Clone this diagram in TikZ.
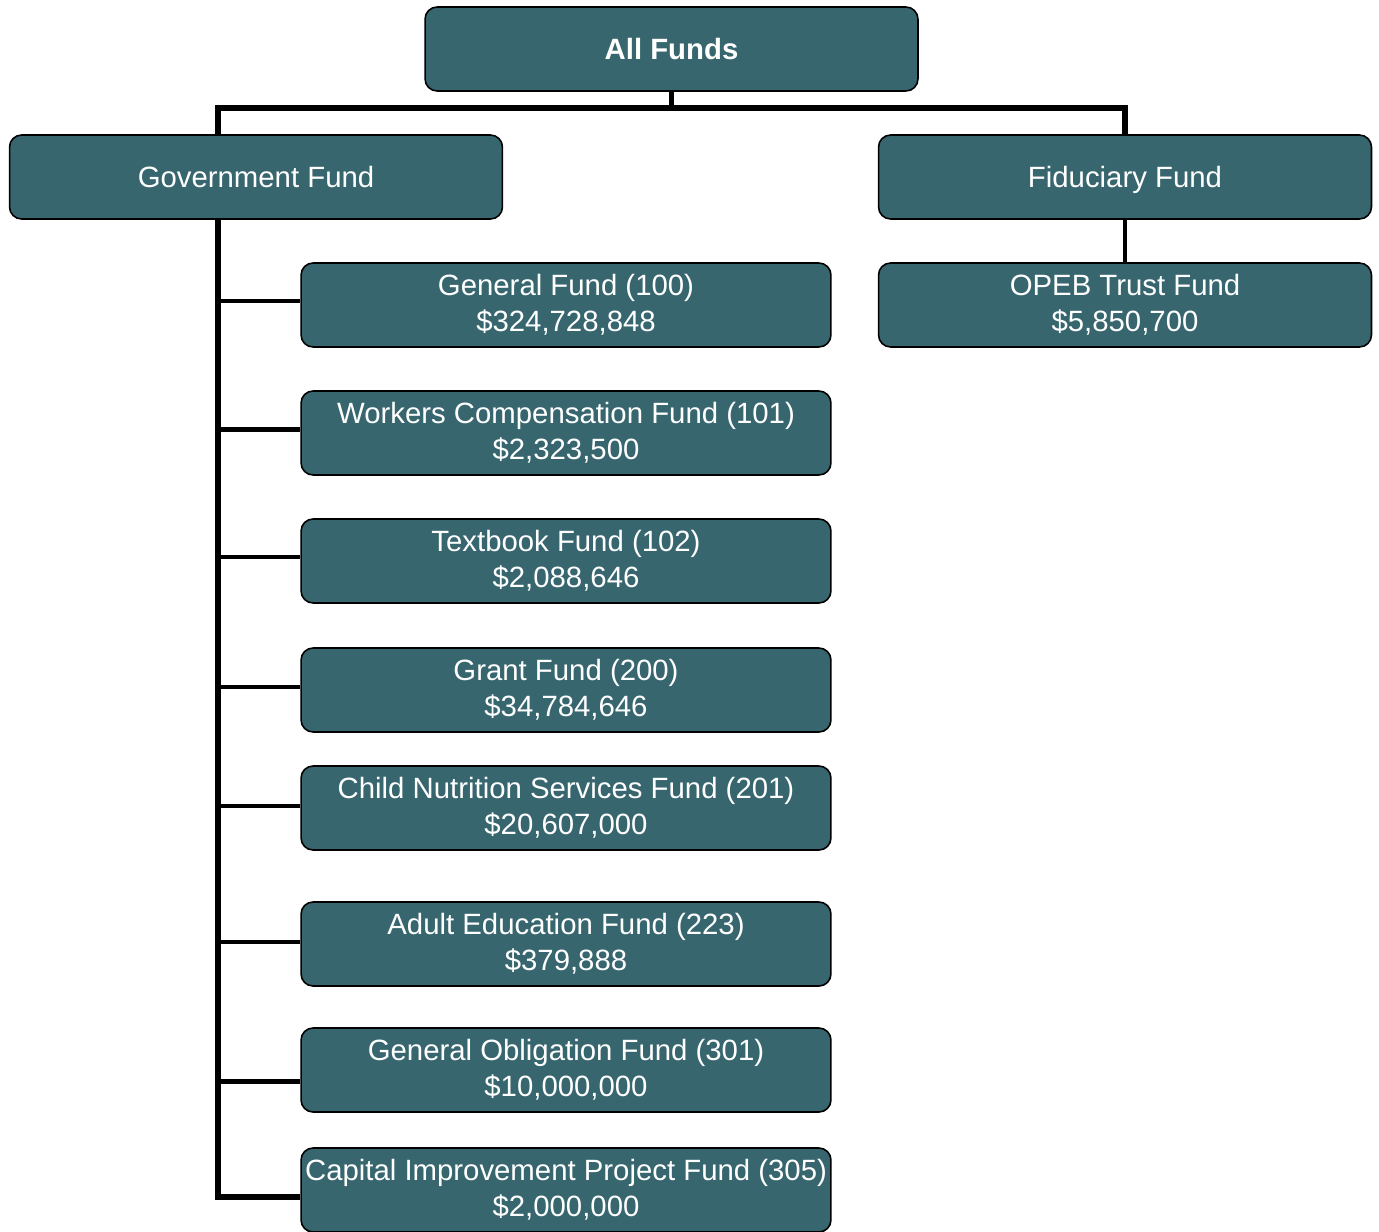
\documentclass[tikz,border=0pt]{standalone}
\usepackage{fontspec}
\setmainfont{Liberation Sans}
\definecolor{fundteal}{RGB}{55,102,111}

\tikzset{
    fundbox/.style={draw=black, line width=0.9pt, fill=fundteal, rounded corners=0.24cm,
        text=white, align=center, minimum width=10.6cm, minimum height=1.68cm,
        inner sep=0pt, font=\fontsize{16.7}{20.5}\selectfont},
    topbox/.style={fundbox, minimum width=9.86cm},
    headbox/.style={topbox, text depth=0pt},
    link/.style={line width=2.6pt},
    trunklink/.style={line width=3.2pt}
}

\begin{document}
\begin{tikzpicture}[x=0.02cm, y=0.02cm]

    \useasboundingbox (0,0) rectangle (1379,-1231);

    %-------------------------
    % Livello superiore
    %-------------------------
    \node[headbox, font=\fontsize{16.7}{20.5}\selectfont\bfseries] (allfunds) at (671.5,-49) {All Funds};
    \node[headbox] (govfund) at (256,-177) {Government Fund};
    \node[headbox] (fidfund) at (1125,-177) {Fiduciary Fund};

    %-------------------------
    % Fondi governativi
    %-------------------------
    \node[fundbox] (general) at (566,-305) {General Fund (100)\\\$324,728,848};
    \node[fundbox] (workers) at (566,-433) {Workers Compensation Fund (101)\\\$2,323,500};
    \node[fundbox] (textbook) at (566,-561) {Textbook Fund (102)\\\$2,088,646};
    \node[fundbox] (grant) at (566,-690) {Grant Fund (200)\\\$34,784,646};
    \node[fundbox] (nutrition) at (566,-808) {Child Nutrition Services Fund (201)\\\$20,607,000};
    \node[fundbox] (adulted) at (566,-944) {Adult Education Fund (223)\\\$379,888};
    \node[fundbox] (obligation) at (566,-1070) {General Obligation Fund (301)\\\$10,000,000};
    \node[fundbox] (capital) at (566,-1190) {Capital Improvement Project Fund (305)\\\$2,000,000};

    %-------------------------
    % Fondo fiduciario
    %-------------------------
    \node[topbox] (opeb) at (1125,-305) {OPEB Trust Fund\\\$5,850,700};

    %-------------------------
    % Collegamenti
    %-------------------------
    \coordinate (bus) at (671.5,-108);
    \coordinate (trunk) at (218,-219);

    \draw[link] (allfunds.south) -- (bus);
    \draw[trunklink] (govfund.north -| trunk) |- (bus) -| (fidfund.north);
    \draw[link] (fidfund.south) -- (opeb.north);

    % Dorsale del fondo governativo
    \draw[trunklink] (trunk) |- ([yshift=-0.14cm]capital.west);
    \draw[link] ([yshift=0.08cm]general.west) -- ++(-83,0);
    \draw[link] ([yshift=0.07cm]workers.west) -- ++(-83,0);
    \draw[link] ([yshift=0.08cm]textbook.west) -- ++(-83,0);
    \draw[link] ([yshift=0.06cm]grant.west) -- ++(-83,0);
    \draw[link] ([yshift=0.04cm]nutrition.west) -- ++(-83,0);
    \draw[link] ([yshift=0.04cm]adulted.west) -- ++(-83,0);
    \draw[link] ([yshift=-0.23cm]obligation.west) -- ++(-83,0);

\end{tikzpicture}
\end{document}
